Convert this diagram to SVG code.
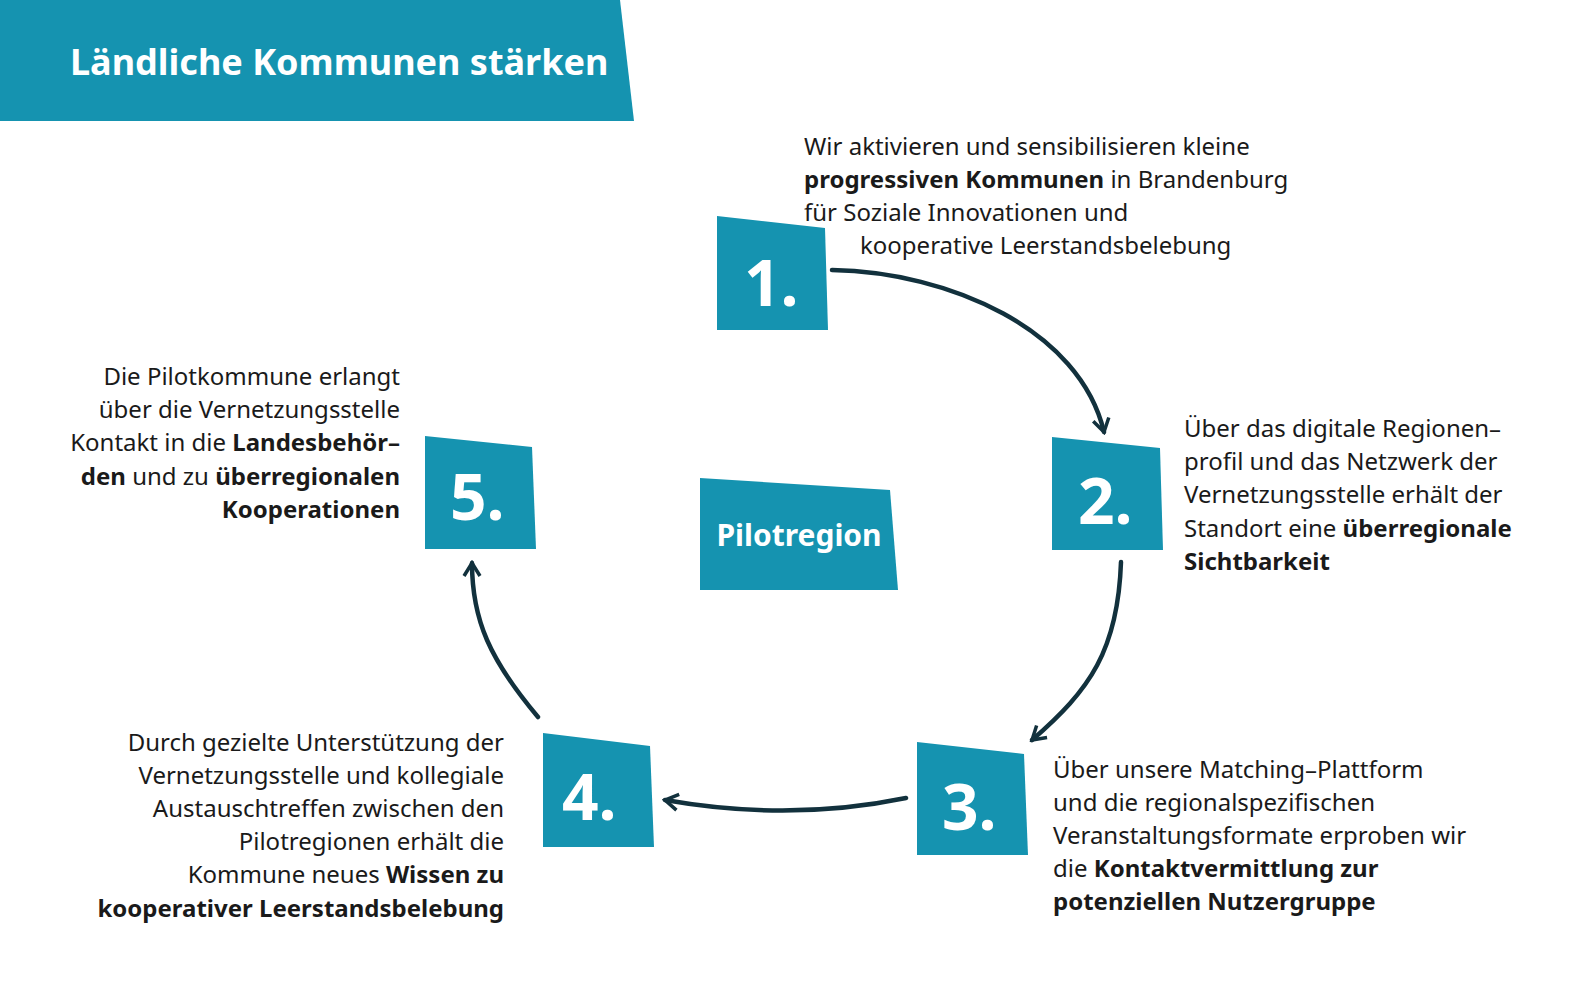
<svg xmlns="http://www.w3.org/2000/svg" width="1575" height="998" viewBox="0 0 1575 998">
<style>
.box{fill:#1593b0}
.num{font-family:"Noto Sans",sans-serif;font-weight:bold;font-size:64px;fill:#fff}
.t{font-family:"Noto Sans",sans-serif;font-size:24px;fill:#1a1a1a}
.r{text-anchor:end}
.b{font-weight:bold}
.c{fill:none;stroke:#12313d;stroke-width:4.5;stroke-linecap:round}
</style>
<defs><marker id="ah" viewBox="0 0 20 20" refX="17" refY="10" markerWidth="20" markerHeight="20" markerUnits="userSpaceOnUse" orient="auto"><path d="M4 2 L17 10 L4 18" fill="none" stroke="#12313d" stroke-width="3.5"/></marker></defs>
<rect width="1575" height="998" fill="#fff"/>
<g id="header"><polygon class="box" points="0,0 620,0 634,121 0,121"/><text x="70" y="75" style="font-family:'Noto Sans',sans-serif;font-weight:bold;font-size:36px;fill:#fff">Ländliche Kommunen stärken</text></g>
<g id="connectors">
<path class="c" marker-end="url(#ah)" d="M832 270 C950 272 1080 330 1104 432"/>
<path class="c" marker-end="url(#ah)" d="M1121 562 C1118 650 1090 690 1032 740"/>
<path class="c" marker-end="url(#ah)" d="M906 798 Q790 822 665 800"/>
<path class="c" marker-end="url(#ah)" d="M538 717 C490 660 472 620 472 563"/>
</g>
<g id="n1"><polygon class="box" points="717,216 825,228 828,330 717,330"/><text class="num" x="744" y="306">1.</text>
<text class="t" x="804" y="155">Wir aktivieren und sensibilisieren kleine</text>
<text class="t" x="804" y="188"><tspan class="b">progressiven Kommunen</tspan> in Brandenburg</text>
<text class="t" x="804" y="221">für Soziale Innovationen und</text>
<text class="t" x="860" y="254">kooperative Leerstandsbelebung</text></g>
<g id="n2"><polygon class="box" points="1052,437 1160,448 1163,550 1052,550"/><text class="num" x="1078" y="524">2.</text>
<text class="t" x="1184" y="437">Über das digitale Regionen–</text>
<text class="t" x="1184" y="470">profil und das Netzwerk der</text>
<text class="t" x="1184" y="503">Vernetzungsstelle erhält der</text>
<text class="t" x="1184" y="537">Standort eine <tspan class="b">überregionale</tspan></text>
<text class="t b" x="1184" y="570">Sichtbarkeit</text></g>
<g id="n3"><polygon class="box" points="917,742 1024,754 1028,855 917,855"/><text class="num" x="942" y="830">3.</text>
<text class="t" x="1053" y="778">Über unsere Matching–Plattform</text>
<text class="t" x="1053" y="811">und die regionalspezifischen</text>
<text class="t" x="1053" y="844">Veranstaltungsformate erproben wir</text>
<text class="t" x="1053" y="877">die <tspan class="b">Kontaktvermittlung zur</tspan></text>
<text class="t b" x="1053" y="910">potenziellen Nutzergruppe</text></g>
<g id="n4"><polygon class="box" points="543,733 650,746 654,847 543,847"/><text class="num" x="562" y="820">4.</text>
<text class="t r" x="504" y="751">Durch gezielte Unterstützung der</text>
<text class="t r" x="504" y="784">Vernetzungsstelle und kollegiale</text>
<text class="t r" x="504" y="817">Austauschtreffen zwischen den</text>
<text class="t r" x="504" y="850">Pilotregionen erhält die</text>
<text class="t r" x="504" y="883">Kommune neues <tspan class="b">Wissen zu</tspan></text>
<text class="t r b" x="504" y="917">kooperativer Leerstandsbelebung</text></g>
<g id="n5"><polygon class="box" points="425,436 532,447 536,549 425,549"/><text class="num" x="450" y="520">5.</text>
<text class="t r" x="400" y="385">Die Pilotkommune erlangt</text>
<text class="t r" x="400" y="418">über die Vernetzungsstelle</text>
<text class="t r" x="400" y="451">Kontakt in die <tspan class="b">Landesbehör–</tspan></text>
<text class="t r" x="400" y="485"><tspan class="b">den</tspan> und zu <tspan class="b">überregionalen</tspan></text>
<text class="t r b" x="400" y="518">Kooperationen</text></g>
<g id="pilot"><polygon class="box" points="700,478 890,490 898,590 700,590"/><text x="799" y="546" text-anchor="middle" style="font-family:'Noto Sans',sans-serif;font-weight:bold;font-size:30px;fill:#fff">Pilotregion</text></g>
</svg>
